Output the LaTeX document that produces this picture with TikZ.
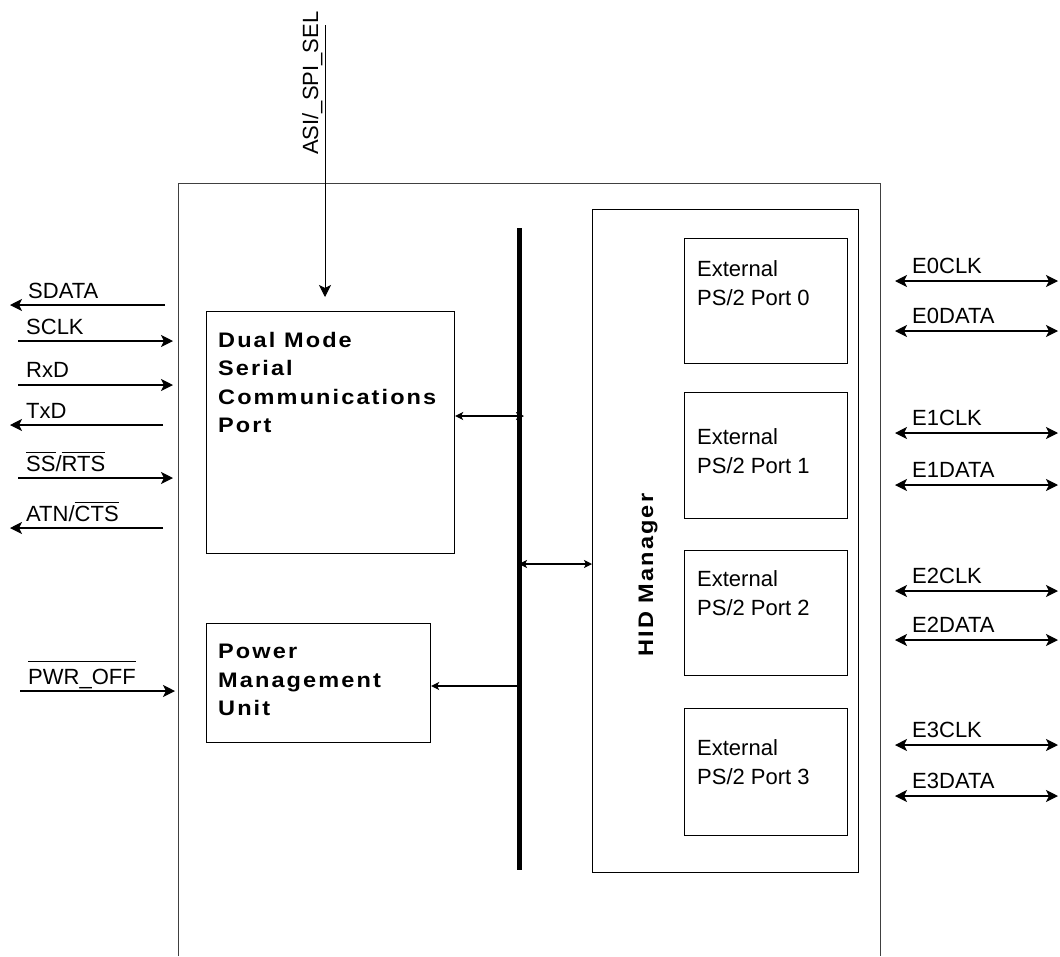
\documentclass[tikz,border=0pt]{standalone}
\usepackage{fontspec}
\setmainfont{Liberation Sans}
\newfontfamily\boldsp[LetterSpace=10,FakeStretch=1.12]{Liberation Sans Bold}
\usetikzlibrary{arrows.meta}
\newcommand\ovl[2][2.5pt]{\leavevmode\vbox{\hrule height 1.1pt\kern#1\hbox{#2}}}
\begin{document}
\begin{tikzpicture}[x=1pt,y=-1pt,
  box/.style={draw, line width=1.2pt, inner sep=0pt, anchor=north west},
  btxt/.style={font=\boldsp\fontsize{21}{28.5}\selectfont, align=left, inner sep=0pt, anchor=north west},
  rtxt/.style={font=\fontsize{22}{29}\selectfont, align=left, inner sep=0pt, anchor=north west},
  lbl/.style={font=\fontsize{22}{26}\selectfont, inner sep=0pt, anchor=base west},
  sig/.style={line width=1.2pt, -{Stealth[length=12pt,width=12pt,inset=3pt]}},
  bisig/.style={line width=1.2pt, {Stealth[length=12pt,width=12pt,inset=3pt]}-{Stealth[length=12pt,width=12pt,inset=3pt]}},
  busarr/.style={line width=1.1pt, {Stealth[length=8pt,width=8pt,inset=2pt]}-{Stealth[length=8pt,width=8pt,inset=2pt]}}
]
\useasboundingbox (0,0) rectangle (1060,956);

% outer chip outline (open at bottom)
\draw[line width=1pt, black!75] (178,956) -- (178,183) -- (880,183) -- (880,956);

% blocks
\node[box, minimum width=248pt, minimum height=242pt] (dm) at (206,311) {};
\node[btxt] (dmt) at (218,332) {Dual Mode\\Serial\\Communications\\Port};
\node[box, minimum width=224pt, minimum height=119pt] (pmu) at (206,623) {};
\node[btxt] (pmut) at (218,644) {Power\\Management\\Unit};

\node[box, minimum width=266pt, minimum height=663pt] (hid) at (592,209) {};
\node[font=\boldsp\fontsize{21}{24}\selectfont, rotate=90, inner sep=0pt] (hidt) at (648,575) {HID Manager};

\node[box, minimum width=163pt, minimum height=125pt] (p0) at (684,238) {};
\node[box, minimum width=163pt, minimum height=126pt] (p1) at (684,392) {};
\node[box, minimum width=163pt, minimum height=125pt] (p2) at (684,550) {};
\node[box, minimum width=163pt, minimum height=127pt] (p3) at (684,708) {};
\node[rtxt] (p0t) at (697,260) {External\\PS/2 Port 0};
\node[rtxt] (p1t) at (697,428) {External\\PS/2 Port 1};
\node[rtxt] (p2t) at (697,570) {External\\PS/2 Port 2};
\node[rtxt] (p3t) at (697,739) {External\\PS/2 Port 3};

% internal bus
\coordinate (bt) at (519.5,228);
\coordinate (bb) at (519.5,870);
\draw[line width=5pt] (bt) -- (bb);
\coordinate (b1) at (524,416);
\coordinate (b2) at (519,564);
\coordinate (b3) at (519,686);
\draw[busarr] (dm.east |- b1) -- (b1);
\draw[busarr] (b2) -- (hid.west |- b2);
\draw[line width=1.1pt, {Stealth[length=8pt,width=8pt,inset=2pt]}-] (pmu.east |- b3) -- (b3);

% top input
\coordinate (asi0) at (325,25);
\coordinate (asi1) at (325,297);
\draw[sig, line width=1pt] (asi0) -- (asi1);
\node[lbl, rotate=90] (asil) at (318,155) {ASI/\_SPI\_SEL};

% left signals
\coordinate (sd0) at (165,305);  \coordinate (sd1) at (10,305);
\coordinate (sc0) at (18,341);   \coordinate (sc1) at (173,341);
\coordinate (rx0) at (18,385);   \coordinate (rx1) at (173,385);
\coordinate (tx0) at (163,425);  \coordinate (tx1) at (10,425);
\coordinate (ss0) at (18,478);   \coordinate (ss1) at (173,478);
\coordinate (at0) at (163,528);  \coordinate (at1) at (10,528);
\coordinate (pw0) at (20,691);   \coordinate (pw1) at (175,691);
\draw[sig] (sd0) -- (sd1);
\draw[sig] (sc0) -- (sc1);
\draw[sig] (rx0) -- (rx1);
\draw[sig] (tx0) -- (tx1);
\draw[sig] (ss0) -- (ss1);
\draw[sig] (at0) -- (at1);
\draw[sig] (pw0) -- (pw1);
\node[lbl] (sdl) at (28,298) {SDATA};
\node[lbl] (scl) at (26,334) {SCLK};
\node[lbl] (rxl) at (26,377) {RxD};
\node[lbl] (txl) at (26,418) {TxD};
\node[lbl] (ssl) at (26,471) {\ovl{SS}/\ovl{RTS}};
\node[lbl] (atl) at (26,521) {ATN/\ovl{CTS}};
\node[lbl] (pwl) at (28,684) {\ovl[7pt]{PWR\_OFF}};

% right signals
\foreach \n/\y/\t in {e0c/281/E0CLK, e0d/331/E0DATA, e1c/433/E1CLK, e1d/485/E1DATA,
                      e2c/591/E2CLK, e2d/640/E2DATA, e3c/745/E3CLK, e3d/796/E3DATA}{
  \coordinate (\n a) at (895,\y);
  \coordinate (\n b) at (1058,\y);
  \draw[bisig] (\n a) -- (\n b);
  \node[lbl] (\n l) at (912,\y-8) {\t};
}
\end{tikzpicture}
\end{document}
